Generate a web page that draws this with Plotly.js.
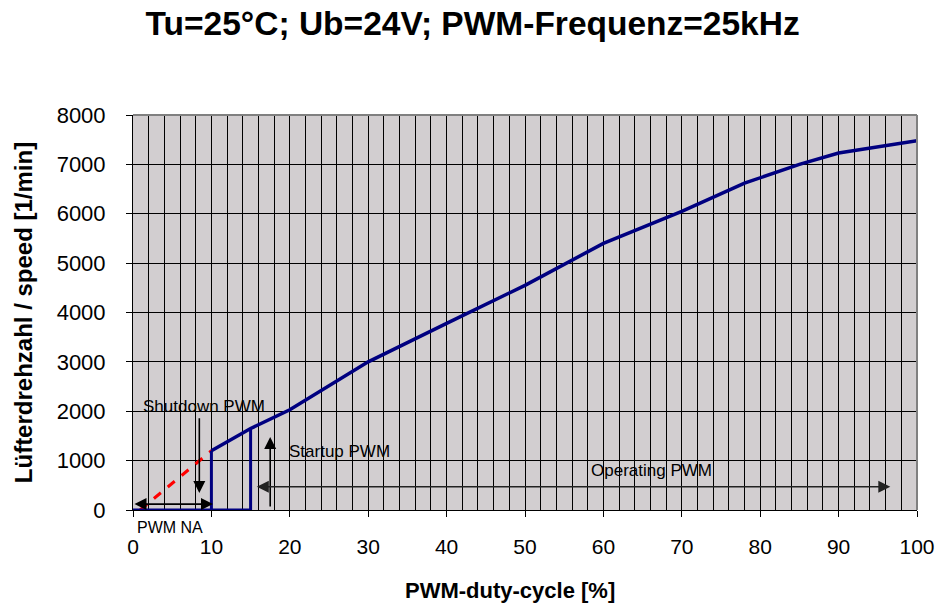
<!DOCTYPE html>
<html>
<head>
<meta charset="utf-8">
<script src="https://cdn.plot.ly/plotly-3.0.1.min.js"></script>
<style>html,body{margin:0;padding:0;background:#fff;}#chart{width:951px;height:606px;}</style>
</head>
<body>
<div id="chart"></div>
<script>
// Speed curve (PWM duty cycle % -> speed 1/min)
var dutyCycle = [10, 15, 20, 30, 40, 50, 60, 70, 78, 85, 90, 100];
var speed     = [1200, 1650, 2030, 3000, 3780, 4550, 5400, 6050, 6620, 7000, 7230, 7480];
// Shutdown step (10 %)
var shutdownX = [10, 10];
var shutdownY = [0, 1200];
// Startup step (0..15 %)
var startupX = [0, 15, 15];
var startupY = [0, 0, 1650];
// Extrapolated (dashed red) segment
var extrapX = [0.9, 10];
var extrapY = [0, 1200];

var titleText = 'Tu=25°C; Ub=24V; PWM-Frequenz=25kHz';
var xTitle = 'PWM-duty-cycle [%]';
var yTitle = 'Lüfterdrehzahl / speed [1/min]';
var xTicks = [0, 10, 20, 30, 40, 50, 60, 70, 80, 90, 100];
var yTicks = [0, 1000, 2000, 3000, 4000, 5000, 6000, 7000, 8000];

var navy = '#000080';
var traces = [
  {x: extrapX, y: extrapY, mode: 'lines', line: {color: '#ff0000', width: 3, dash: 'dash'}, hoverinfo: 'skip'},
  {x: startupX, y: startupY, mode: 'lines', line: {color: navy, width: 3}},
  {x: shutdownX, y: shutdownY, mode: 'lines', line: {color: navy, width: 3}},
  {x: dutyCycle, y: speed, mode: 'lines', line: {color: navy, width: 3.5}}
];

var fam = 'Liberation Sans, Arial, sans-serif';
function arrow(x0, y0, x1, y1, both, color) {
  return {x: x1, y: y1, ax: x0, ay: y0, xref: 'x', yref: 'y', axref: 'x', ayref: 'y',
    text: '', showarrow: true, arrowhead: 2, arrowsize: 1.5, arrowwidth: 1.6,
    arrowcolor: color || '#000', arrowside: both ? 'end+start' : 'end', standoff: 0, startstandoff: 0};
}
function label(t, x, y, yref, size) {
  return {text: t, x: x, y: y, xref: 'x', yref: yref || 'y', showarrow: false,
    xanchor: 'left', yanchor: 'middle', font: {family: fam, size: size || 17, color: '#000'}};
}

var layout = {
  width: 951, height: 606,
  margin: {l: 133, r: 34, t: 115, b: 96},
  paper_bgcolor: '#ffffff',
  plot_bgcolor: '#d2ced0',
  showlegend: false,
  title: {text: titleText, x: 0.497, xref: 'container', y: 0.962, yref: 'container', yanchor: 'middle',
    font: {family: fam, size: 33.5, color: '#000', weight: 'bold'}},
  xaxis: {
    range: [0, 100], tickvals: xTicks, ticks: 'outside', ticklen: 6, tickcolor: '#000',
    showgrid: true, gridcolor: '#000', gridwidth: 1,
    minor: {dtick: 2, showgrid: true, gridcolor: '#000', gridwidth: 1},
    showline: true, linecolor: '#000', linewidth: 1, zeroline: false,
    ticklabelstandoff: 12,
    tickfont: {family: fam, size: 21, color: '#000'}
  },
  yaxis: {
    range: [0, 8000], tickvals: yTicks, ticks: 'outside', ticklen: 6, tickcolor: '#000',
    showgrid: true, gridcolor: '#000', gridwidth: 1,
    showline: true, linecolor: '#000', linewidth: 1, zeroline: false,
    ticklabelstandoff: 16,
    tickfont: {family: fam, size: 22, color: '#000'},
    title: {text: yTitle, standoff: 17, font: {family: fam, size: 24, color: '#000', weight: 'bold'}}
  },
  shapes: [
    {type: 'line', xref: 'paper', yref: 'paper', x0: 0, x1: 1, y0: 1, y1: 1, line: {color: '#808080', width: 2}},
    {type: 'line', xref: 'paper', yref: 'paper', x0: 1, x1: 1, y0: 0, y1: 1, line: {color: '#808080', width: 2}}
  ],
  annotations: [
    arrow(8.46, 1890, 8.46, 344, false),
    arrow(0, 120, 10.2, 120, true),
    arrow(17.5, 40, 17.5, 1480, false),
    arrow(15.6, 470, 96.6, 470, true, '#222'),
    label('Shutdown PWM', 1.0, 2090),
    label('Startup PWM', 19.6, 1175),
    label('Operating PWM', 58.1, 810),
    label('PWM NA', 0.3, -0.045, 'paper', 16),
    {text: xTitle, xref: 'paper', yref: 'paper', x: 0.481, y: -0.203, showarrow: false,
     xanchor: 'center', yanchor: 'middle', font: {family: fam, size: 22, color: '#000', weight: 'bold'}}
  ]
};

Plotly.newPlot('chart', traces, layout, {displayModeBar: false, staticPlot: true});
</script>
</body>
</html>
